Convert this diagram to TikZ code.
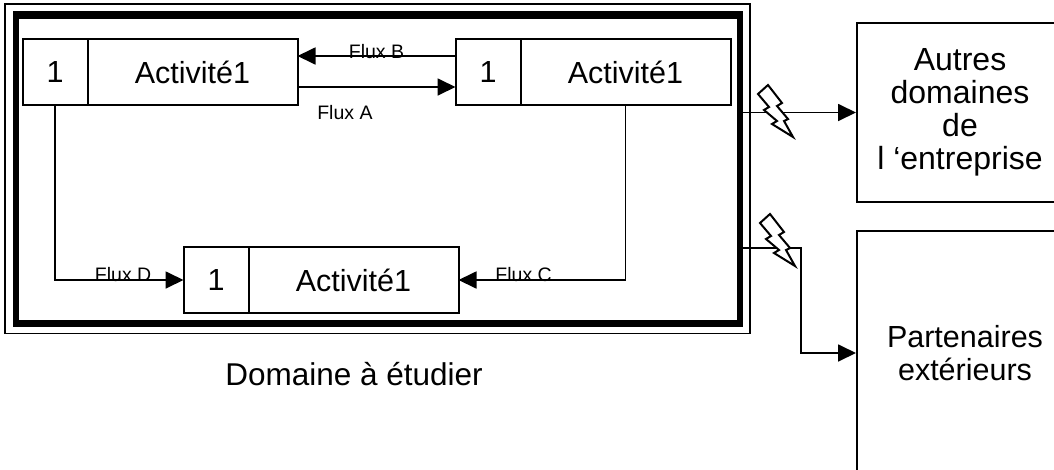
\documentclass[tikz,border=0pt]{standalone}
\usepackage{fontspec}
\setmainfont{Liberation Sans}
\usetikzlibrary{positioning, arrows.meta, calc}

\begin{document}
\begin{tikzpicture}[
  x=1pt, y=-1pt,
  >={Triangle[length=18pt, width=17pt]},
  numbox/.style={draw, line width=2pt, minimum width=65pt, minimum height=66pt,
    inner sep=0pt, outer sep=0pt, font=\fontsize{30.5}{33}\selectfont},
  actbox/.style={numbox, minimum width=210pt},
  extbox/.style={draw, line width=2pt, minimum width=216pt, align=center,
    font=\fontsize{30.5}{33}\selectfont},
  frame/.style={draw, line width=6pt, minimum width=724.5pt, minimum height=309.5pt},
  flux/.style={->, line width=1.8pt},
  fluxlbl/.style={font=\fontsize{19.5}{21}\selectfont, inner sep=0pt},
  bolt/.pic={
    \draw[line width=2pt, fill=white]
      (10,0) -- (24,18) -- (19,21) -- (30,34) -- (26,36) -- (35,52)
      -- (14,39) -- (19,36) -- (6,25) -- (11,22) -- (0,9) -- cycle;
  },
]
\useasboundingbox (0,0) rectangle (1054,469);
\clip (0,0) rectangle (1054,469);

% --- Domain frame (thin / thick / thin) ---
\node[frame] (dom) at (377.75,168.75) {};
\draw[line width=1.5pt] ([shift={(-7.5pt,7pt)}]dom.north west)
  rectangle ([shift={(7pt,-7pt)}]dom.south east);
\draw[line width=1.2pt] ([shift={(4.5pt,-7pt)}]dom.north west)
  rectangle ([shift={(-5pt,5.5pt)}]dom.south east);
\node[anchor=base, font=\fontsize{31.5}{34}\selectfont] (domlbl) at (354,385)
  {Domaine à étudier};

% --- Activities ---
\node[numbox] (num1) at (55,72) {1};
\node[actbox, right=0pt of num1] (act1) {Activité1};
\node[numbox] (num2) at (488,72) {1};
\node[actbox, right=0pt of num2] (act2) {Activité1};
\node[numbox] (num3) at (216,280) {1};
\node[actbox, right=0pt of num3] (act3) {Activité1};

% --- Outside boxes ---
\node[extbox, minimum width=206pt, minimum height=179pt,
  font=\fontsize{32}{33}\selectfont] (autres) at (960,112.5)
  {Autres\\domaines\\de\\l ‘entreprise};
\node[extbox, minimum height=244pt] (partners) at (965,353)
  {Partenaires\\extérieurs};

% --- Flows inside the domain ---
\draw[flux] ([yshift=-15pt]act1.east) -- ([yshift=-15pt]num2.west)
  node[fluxlbl, pos=0.3, anchor=north, yshift=-17pt] (lblA) {Flux A};
\draw[flux] ([yshift=16pt]num2.west) -- ([yshift=16pt]act1.east)
  node[fluxlbl, midway, anchor=base, yshift=-2pt] (lblB) {Flux B};
\draw[flux] (act2.south) |- (act3.east)
  node[fluxlbl, pos=0.805, anchor=base, yshift=-1pt] (lblC) {Flux C};
\draw[flux] (num1.south) |- (num3.west)
  node[fluxlbl, pos=0.765, anchor=base, yshift=-1pt] (lblD) {Flux D};

% --- Flows to the outside ---
\coordinate (bend) at (801,248);
\draw[flux] (dom.east |- autres.west) -- (autres.west);
\draw[flux] (dom.east |- bend) -- (bend) |- (partners.west);
\pic (bolt1) at (758,85) {bolt};
\pic (bolt2) at (760,214) {bolt};

\end{tikzpicture}
\end{document}
